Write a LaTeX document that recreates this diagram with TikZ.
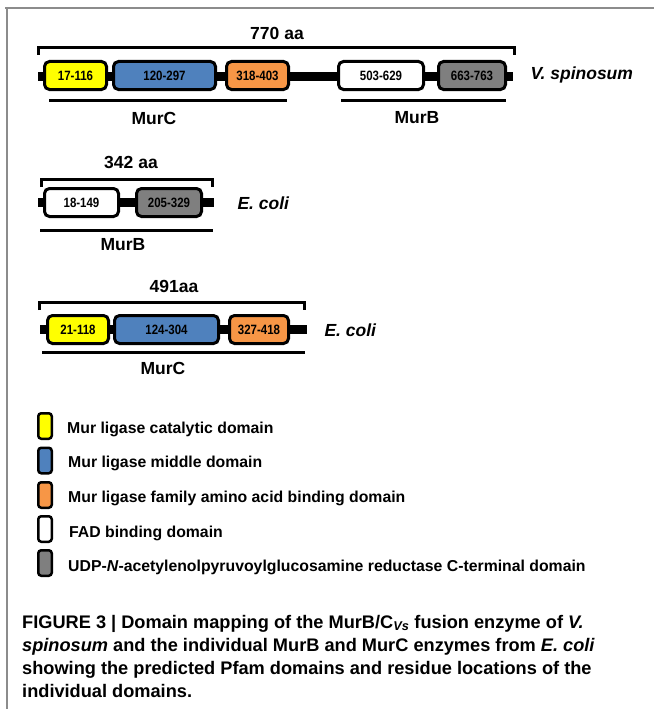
\documentclass[tikz,border=0pt]{standalone}
\usepackage{fontspec}
\setmainfont{Liberation Sans}
\newfontfamily\narrowfont[FakeStretch=0.85]{Liberation Sans}
\usetikzlibrary{positioning}
\definecolor{catyellow}{HTML}{FFFF00}
\definecolor{midblue}{HTML}{4F81BD}
\definecolor{aaorange}{HTML}{F79646}
\definecolor{ctgray}{HTML}{7F7F7F}
\definecolor{framegray}{HTML}{8C8C8C}

\begin{document}
\begin{tikzpicture}[
  x=1pt, y=-1pt,
  dombox/.style={rectangle, draw, rounded corners=5pt, line width=3pt, minimum height=28pt, inner sep=0pt, font=\narrowfont\bfseries\fontsize{13.5}{14}\selectfont},
  backbone/.style={line width=9pt},
  bracketline/.style={line width=3pt},
  underline/.style={line width=3pt},
  lenlabel/.style={font=\bfseries\fontsize{17.5}{20}\selectfont},
  species/.style={font=\bfseries\itshape\fontsize{17.5}{20}\selectfont, anchor=west},
  legbox/.style={rectangle, draw, rounded corners=3pt, line width=2.5pt, minimum width=13.5pt, minimum height=25.5pt, inner sep=0pt},
  legtext/.style={font=\bfseries\fontsize{15.8}{18}\selectfont, inner sep=0pt, anchor=west},
  captext/.style={font=\bfseries\fontsize{18.2}{20}\selectfont, inner sep=0pt, anchor=base west}
]
\useasboundingbox (0,0) rectangle (654,709);

% Frame
\draw[framegray, line width=2pt] (5,8) -- (654,8);
\draw[framegray, line width=2pt] (7,8) -- (7,709);

% V. spinosum MurB/C fusion
\node[lenlabel] (vs-len) at (277,33) {770 aa};
\draw[bracketline] (38,55) |- (514,47.5) -- (514,55);
\coordinate (vs-start) at (38,76);
\coordinate (vs-end) at (513,76);
\draw[backbone] (vs-start) -- (vs-end);
\node[dombox, fill=catyellow, minimum width=62pt] (vs-cat) at (75.5,75.5) {17-116};
\node[dombox, fill=midblue, minimum width=102pt] (vs-mid) at (164.5,75.5) {120-297};
\node[dombox, fill=aaorange, minimum width=62pt] (vs-aa) at (257.5,75.5) {318-403};
\node[dombox, fill=white, minimum width=85pt] (vs-fad) at (381,75.5) {503-629};
\node[dombox, fill=ctgray, minimum width=67pt] (vs-ct) at (472,75.5) {663-763};
\node[species] (vs-name) at (527,75) {V. spinosum};
\draw[underline] (49,100) -- (287,100);
\draw[underline] (341,100) -- (506,100);
\node[lenlabel] (vs-murc) at (154,118) {MurC};
\node[lenlabel] (vs-murb) at (417,118) {MurB};

% E. coli MurB
\node[lenlabel] (eb-len) at (131,162) {342 aa};
\draw[bracketline] (41,187) |- (212,179) -- (212,187);
\coordinate (eb-start) at (38,202.5);
\coordinate (eb-end) at (214,202.5);
\draw[backbone] (eb-start) -- (eb-end);
\node[dombox, fill=white, minimum width=74pt] (eb-fad) at (81.5,202.5) {18-149};
\node[dombox, fill=ctgray, minimum width=65pt] (eb-ct) at (169,202.5) {205-329};
\node[species] (eb-name) at (234,203) {E. coli};
\draw[underline] (40,230) -- (213,230);
\node[lenlabel] (eb-murb) at (123,245) {MurB};

% E. coli MurC
\node[lenlabel] (ec-len) at (174,286) {491aa};
\draw[bracketline] (39,310) |- (304,302) -- (304,310);
\coordinate (ec-start) at (40,329.5);
\coordinate (ec-end) at (307,329.5);
\draw[backbone] (ec-start) -- (ec-end);
\node[dombox, fill=catyellow, minimum width=61pt] (ec-cat) at (78,329.5) {21-118};
\node[dombox, fill=midblue, minimum width=104pt] (ec-mid) at (166.5,329.5) {124-304};
\node[dombox, fill=aaorange, minimum width=59pt] (ec-aa) at (259,329.5) {327-418};
\node[species] (ec-name) at (321,330) {E. coli};
\draw[underline] (42,352) -- (305,352);
\node[lenlabel] (ec-murc) at (163,368) {MurC};

% Legend
\node[legbox, fill=catyellow] (lg-cat) at (45,426) {};
\node[legbox, fill=midblue] (lg-mid) at (45,460.5) {};
\node[legbox, fill=aaorange] (lg-aa) at (45,495) {};
\node[legbox, fill=white] (lg-fad) at (45,529) {};
\node[legbox, fill=ctgray] (lg-ct) at (45,563) {};
\node[legtext, right=14pt of lg-cat.east, yshift=-3.5pt] (lt-cat) {Mur ligase catalytic domain};
\node[legtext, right=15pt of lg-mid.east, yshift=-3pt] (lt-mid) {Mur ligase middle domain};
\node[legtext, right=15pt of lg-aa.east, yshift=-3pt] (lt-aa) {Mur ligase family amino acid binding domain};
\node[legtext, right=16pt of lg-fad.east, yshift=-4pt] (lt-fad) {FAD binding domain};
\node[legtext, right=15pt of lg-ct.east, yshift=-4.5pt] (lt-ct) {UDP-\textit{N}-acetylenolpyruvoylglucosamine reductase C-terminal domain};

% Caption
\node[captext] (cap1) at (22,628) {FIGURE 3 | Domain mapping of the MurB/C\textsubscript{\textit{Vs}} fusion enzyme of \textit{V.}};
\node[captext] (cap2) at (22,651) {\textit{spinosum} and the individual MurB and MurC enzymes from \textit{E. coli}};
\node[captext] (cap3) at (22,674) {showing the predicted Pfam domains and residue locations of the};
\node[captext] (cap4) at (22,697.5) {individual domains.};

\end{tikzpicture}
\end{document}
